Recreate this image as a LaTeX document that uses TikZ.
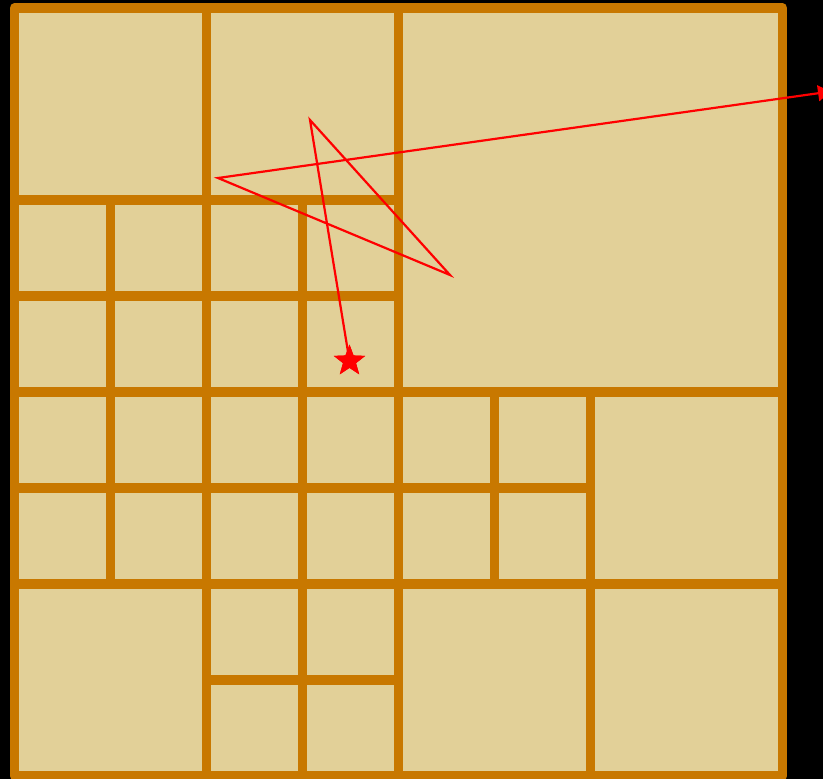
\documentclass[tikz,border=0pt]{standalone}
\usetikzlibrary{arrows.meta,shapes.geometric}
\definecolor{cellfill}{RGB}{226,208,152}
\definecolor{gridline}{RGB}{200,120,0}
\definecolor{pathred}{RGB}{255,0,0}
\begin{document}
\begin{tikzpicture}[x=1pt,y=-1pt,
  gridstroke/.style={draw=gridline,line width=9.5pt},
  redpath/.style={draw=pathred,line width=2.2pt,line join=miter},
  goalstar/.style={star,star points=5,star point ratio=2.4,fill=pathred,draw=none,minimum size=33pt,inner sep=0pt}]
\fill[black] (0,0) rectangle (823,779);
\useasboundingbox (0,0) rectangle (823,779);
% cells
\fill[cellfill] (14.5,8) rectangle (782.5,776);
% interior grid lines
\draw[gridstroke] (206.5,8) -- (206.5,776);
\draw[gridstroke] (398.5,8) -- (398.5,776);
\draw[gridstroke] (14.5,392) -- (782.5,392);
\draw[gridstroke] (14.5,584) -- (782.5,584);
\draw[gridstroke] (590.5,392) -- (590.5,776);
\draw[gridstroke] (14.5,200) -- (398.5,200);
\draw[gridstroke] (110.5,200) -- (110.5,584);
\draw[gridstroke] (302.5,200) -- (302.5,776);
\draw[gridstroke] (494.5,392) -- (494.5,584);
\draw[gridstroke] (14.5,296) -- (398.5,296);
\draw[gridstroke] (14.5,488) -- (590.5,488);
\draw[gridstroke] (206.5,680) -- (398.5,680);
% outer border
\draw[gridstroke,line join=round] (14.5,8) rectangle (782.5,776);
% path
\node[goalstar] (goal) at (349.5,361) {};
\coordinate (p1) at (310,120);
\coordinate (p2) at (450,275);
\coordinate (p3) at (218,178);
\coordinate (pend) at (834,91);
\draw[redpath,-{Latex[length=16pt,width=17pt]}] (goal.center) -- (p1) -- (p2) -- (p3) -- (pend);
\node[goalstar] at (goal.center) {};
\end{tikzpicture}
\end{document}
